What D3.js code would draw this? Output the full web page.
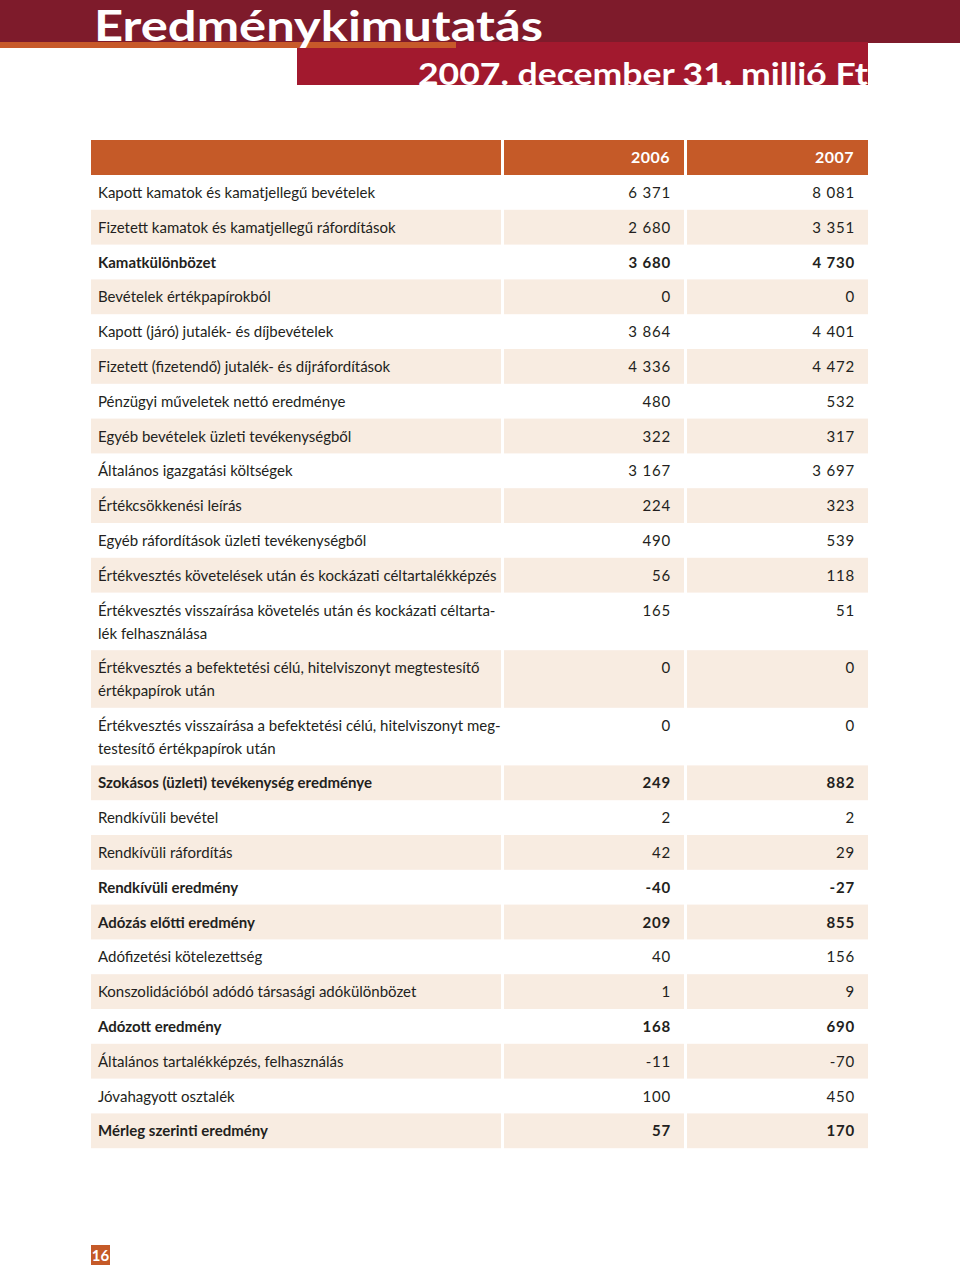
<!DOCTYPE html>
<html><head><meta charset="utf-8">
<script src="https://cdn.jsdelivr.net/npm/d3@7"></script>
<style>
html,body{margin:0;padding:0;background:#fff;}
svg{display:block;}
</style></head>
<body>
<svg id="chart" width="960" height="1270"></svg>
<script>
const title = "Eredménykimutatás";
const subtitle = "2007. december 31. millió Ft";
const years = ["2006", "2007"];
const labels = [
  "Kapott kamatok és kamatjellegű bevételek",
  "Fizetett kamatok és kamatjellegű ráfordítások",
  "Kamatkülönbözet",
  "Bevételek értékpapírokból",
  "Kapott (járó) jutalék- és díjbevételek",
  "Fizetett (fizetendő) jutalék- és díjráfordítások",
  "Pénzügyi műveletek nettó eredménye",
  "Egyéb bevételek üzleti tevékenységből",
  "Általános igazgatási költségek",
  "Értékcsökkenési leírás",
  "Egyéb ráfordítások üzleti tevékenységből",
  "Értékvesztés követelések után és kockázati céltartalékképzés",
  "Értékvesztés visszaírása követelés után és kockázati céltarta-\nlék felhasználása",
  "Értékvesztés a befektetési célú, hitelviszonyt megtestesítő\nértékpapírok után",
  "Értékvesztés visszaírása a befektetési célú, hitelviszonyt meg-\ntestesítő értékpapírok után",
  "Szokásos (üzleti) tevékenység eredménye",
  "Rendkívüli bevétel",
  "Rendkívüli ráfordítás",
  "Rendkívüli eredmény",
  "Adózás előtti eredmény",
  "Adófizetési kötelezettség",
  "Konszolidációból adódó társasági adókülönbözet",
  "Adózott eredmény",
  "Általános tartalékképzés, felhasználás",
  "Jóvahagyott osztalék",
  "Mérleg szerinti eredmény"
];
const values2006 = [6371, 2680, 3680, 0, 3864, 4336, 480, 322, 3167, 224, 490, 56, 165, 0, 0, 249, 2, 42, -40, 209, 40, 1, 168, -11, 100, 57];
const values2007 = [8081, 3351, 4730, 0, 4401, 4472, 532, 317, 3697, 323, 539, 118, 51, 0, 0, 882, 2, 29, -27, 855, 156, 9, 690, -70, 450, 170];
const subtotalRows = [2, 15, 18, 19, 22, 25];
const pageNumber = "16";

const svg = d3.select("#chart");
const font = "Lato, 'Open Sans', sans-serif";

// Header bands
svg.append("rect").attr("x", 0).attr("y", 0).attr("width", 960).attr("height", 43).attr("fill", "#7e1b2b");
svg.append("rect").attr("x", 297).attr("y", 42).attr("width", 571).attr("height", 43).attr("fill", "#a2192e");
svg.append("rect").attr("x", 0).attr("y", 42).attr("width", 456).attr("height", 6).attr("fill", "#c7592a");

svg.append("text").attr("x", 94).attr("y", 41)
  .attr("font-family", font).attr("font-weight", 700).attr("font-size", 42)
  .attr("fill", "#fff").attr("textLength", 449).attr("lengthAdjust", "spacingAndGlyphs")
  .text(title);

svg.append("clipPath").attr("id", "subclip").append("rect")
  .attr("x", 297).attr("y", 42).attr("width", 571).attr("height", 43);
svg.append("text").attr("x", 418).attr("y", 85)
  .attr("clip-path", "url(#subclip)")
  .attr("font-family", font).attr("font-weight", 700).attr("font-size", 31)
  .attr("fill", "#fff").attr("textLength", 450).attr("lengthAdjust", "spacingAndGlyphs")
  .text(subtitle);

// Table geometry
const loc = d3.formatLocale({decimal: ",", thousands: " ", grouping: [3], currency: ["", ""], minus: "-"});
const fmt = loc.format(",d");

const x = d3.scaleOrdinal().domain(["label", "2006", "2007"]).range([91, 504, 687]);
const colW = {label: 410, "2006": 180, "2007": 181};

const lineCount = labels.map(l => l.split("\n").length);
const rowH = n => n === 1 ? 34.8 : 57.6;
const tops = [];
let acc = 175;
lineCount.forEach(n => { tops.push(acc); acc += rowH(n); });
const y = d3.scaleOrdinal().domain(d3.range(labels.length)).range(tops);

// Header row
const head = svg.append("g");
["label", "2006", "2007"].forEach(k => {
  head.append("rect").attr("x", x(k)).attr("y", 140).attr("width", colW[k]).attr("height", 35).attr("fill", "#c55a28");
});
years.forEach(yr => {
  head.append("text").attr("x", x(yr) + colW[yr] - 14).attr("y", 163)
    .attr("text-anchor", "end").attr("font-family", font).attr("font-weight", 700)
    .attr("font-size", 16).attr("fill", "#fff").attr("letter-spacing", 0.5).text(yr);
});

// Rows
const rows = svg.append("g").selectAll("g").data(labels).join("g")
  .attr("transform", (d, i) => `translate(0,${y(i)})`);

rows.each(function(d, i) {
  if (i % 2 !== 1) return;
  const g = d3.select(this);
  ["label", "2006", "2007"].forEach(k => {
    g.append("rect").attr("x", x(k)).attr("y", 0).attr("width", colW[k])
      .attr("height", rowH(lineCount[i])).attr("fill", "#f8ece1");
  });
});

rows.each(function(d, i) {
  const g = d3.select(this);
  const bold = subtotalRows.includes(i);
  const t = g.append("text").attr("font-family", font).attr("font-size", 15)
    .attr("font-weight", bold ? 700 : 400).attr("fill", "#231f20");
  d.split("\n").forEach((line, li) => {
    t.append("tspan").attr("x", 98).attr("y", 23 + li * 23).text(line);
  });
  [[values2006, "2006"], [values2007, "2007"]].forEach(([vals, k]) => {
    g.append("text").attr("x", x(k) + colW[k] - 13).attr("y", 23)
      .attr("text-anchor", "end").attr("font-family", font).attr("font-size", 15)
      .attr("font-weight", bold ? 700 : 400).attr("fill", "#231f20")
      .attr("letter-spacing", 0.8).text(fmt(vals[i]));
  });
});

// Page number
svg.append("rect").attr("x", 91).attr("y", 1245).attr("width", 19).attr("height", 20).attr("fill", "#c55a28");
svg.append("text").attr("x", 100.5).attr("y", 1261).attr("text-anchor", "middle")
  .attr("font-family", font).attr("font-weight", 700).attr("font-size", 15).attr("fill", "#fff").text(pageNumber);
</script>
</body></html>
